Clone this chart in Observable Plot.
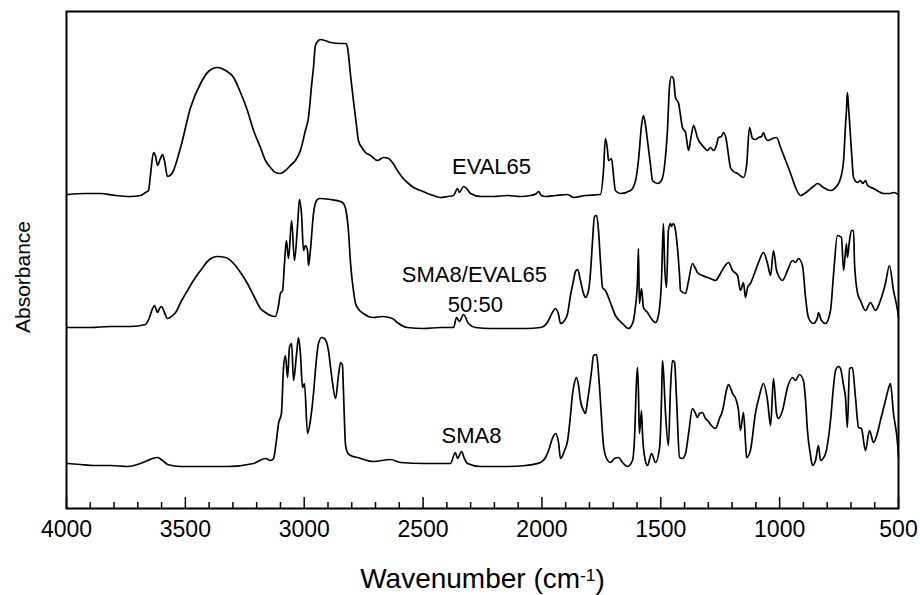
<!DOCTYPE html>
<html><head><meta charset="utf-8">
<script src="https://cdn.jsdelivr.net/npm/d3@7"></script>
<script src="https://cdn.jsdelivr.net/npm/@observablehq/plot@0.6"></script>
<style>body{margin:0;background:#fff;font-family:"Liberation Sans",Arial,sans-serif}</style>
</head><body><div id="chart"></div>
<script>
// [wavenumber (cm-1), absorbance (offset, arbitrary units)]
const eval65 = [[3996,3.14],[3920,3.15],[3857,3.15],[3794,3.13],[3731,3.12],[3689,3.13],[3668,3.16],[3655,3.18],[3647,3.33],[3634,3.56],[3626,3.53],[3617,3.43],[3605,3.50],[3596,3.54],[3588,3.48],[3575,3.32],[3554,3.36],[3520,3.61],[3478,4.01],[3436,4.25],[3403,4.37],[3365,4.41],[3331,4.38],[3297,4.31],[3268,4.16],[3239,3.98],[3213,3.78],[3184,3.61],[3163,3.48],[3142,3.41],[3121,3.36],[3100,3.35],[3079,3.38],[3058,3.43],[3037,3.48],[3016,3.58],[2995,3.78],[2982,3.91],[2969,4.23],[2961,4.41],[2953,4.63],[2944,4.67],[2931,4.69],[2889,4.66],[2847,4.65],[2826,4.65],[2818,4.61],[2805,4.33],[2793,4.08],[2780,3.83],[2772,3.68],[2755,3.60],[2742,3.56],[2721,3.53],[2692,3.48],[2666,3.51],[2645,3.50],[2629,3.46],[2608,3.38],[2587,3.31],[2566,3.26],[2540,3.21],[2511,3.18],[2481,3.15],[2456,3.13],[2427,3.11],[2397,3.12],[2372,3.13],[2355,3.20],[2347,3.16],[2330,3.22],[2317,3.20],[2300,3.15],[2258,3.12],[2204,3.12],[2145,3.13],[2090,3.12],[2048,3.13],[2023,3.15],[2014,3.17],[2002,3.13],[1985,3.12],[1943,3.13],[1892,3.14],[1867,3.11],[1817,3.13],[1754,3.14],[1741,3.38],[1733,3.70],[1724,3.58],[1720,3.48],[1707,3.50],[1699,3.33],[1691,3.18],[1670,3.15],[1627,3.18],[1606,3.28],[1594,3.48],[1581,3.83],[1573,3.93],[1564,3.83],[1556,3.68],[1543,3.43],[1535,3.28],[1514,3.25],[1497,3.28],[1484,3.43],[1472,3.78],[1463,4.23],[1455,4.32],[1447,4.30],[1438,4.11],[1425,4.05],[1417,3.93],[1409,3.81],[1396,3.76],[1383,3.58],[1375,3.68],[1362,3.83],[1354,3.78],[1346,3.71],[1325,3.63],[1303,3.58],[1291,3.61],[1278,3.58],[1266,3.63],[1257,3.71],[1245,3.72],[1236,3.76],[1224,3.68],[1215,3.53],[1207,3.41],[1194,3.37],[1177,3.35],[1152,3.31],[1139,3.43],[1127,3.81],[1114,3.70],[1102,3.69],[1089,3.71],[1076,3.72],[1068,3.76],[1060,3.71],[1051,3.68],[1038,3.69],[1030,3.70],[1013,3.71],[996,3.61],[975,3.48],[954,3.35],[933,3.21],[912,3.13],[895,3.15],[879,3.18],[858,3.22],[841,3.25],[816,3.21],[786,3.18],[761,3.22],[744,3.30],[731,3.48],[723,3.83],[719,3.98],[715,4.16],[710,4.01],[698,3.58],[689,3.31],[672,3.26],[660,3.28],[651,3.25],[639,3.28],[630,3.23],[605,3.20],[584,3.17],[563,3.15],[534,3.15],[521,3.16],[500,3.14]];

const blend5050 = [[3996,1.81],[3899,1.81],[3815,1.82],[3731,1.82],[3668,1.84],[3651,1.91],[3638,2.00],[3630,2.03],[3617,1.96],[3609,2.00],[3600,2.02],[3588,1.96],[3575,1.90],[3554,1.93],[3541,1.96],[3520,2.06],[3491,2.18],[3466,2.28],[3436,2.38],[3403,2.48],[3365,2.52],[3331,2.51],[3297,2.45],[3268,2.36],[3239,2.25],[3213,2.13],[3184,2.00],[3163,1.96],[3142,1.93],[3121,1.92],[3108,2.03],[3100,2.15],[3091,2.18],[3083,2.45],[3075,2.68],[3066,2.50],[3053,2.88],[3041,2.48],[3028,2.83],[3020,3.09],[3011,2.93],[3003,2.58],[2995,2.63],[2986,2.58],[2982,2.43],[2974,2.58],[2961,2.95],[2948,3.08],[2936,3.10],[2889,3.09],[2847,3.07],[2835,3.05],[2826,3.00],[2814,2.78],[2805,2.45],[2793,2.18],[2784,2.05],[2767,1.98],[2751,1.95],[2730,1.92],[2709,1.91],[2671,1.92],[2629,1.90],[2603,1.85],[2566,1.81],[2498,1.80],[2427,1.81],[2372,1.81],[2359,1.91],[2347,1.87],[2330,1.94],[2309,1.85],[2279,1.81],[2216,1.80],[2145,1.80],[2069,1.80],[2006,1.81],[1977,1.86],[1956,1.96],[1943,2.00],[1930,1.94],[1922,1.85],[1905,1.88],[1892,1.95],[1880,2.13],[1867,2.28],[1859,2.37],[1850,2.39],[1838,2.28],[1825,2.15],[1817,2.11],[1804,2.18],[1796,2.35],[1787,2.68],[1779,2.92],[1770,2.93],[1762,2.78],[1754,2.48],[1745,2.21],[1733,2.18],[1712,2.06],[1691,1.93],[1661,1.85],[1636,1.80],[1623,1.83],[1615,1.88],[1606,2.03],[1598,2.28],[1594,2.60],[1590,2.05],[1581,2.20],[1573,2.01],[1564,1.98],[1556,1.96],[1543,1.91],[1522,1.86],[1510,1.93],[1497,2.28],[1489,2.85],[1484,2.45],[1476,2.21],[1468,2.78],[1459,2.85],[1455,2.82],[1447,2.85],[1438,2.78],[1430,2.61],[1421,2.33],[1417,2.18],[1396,2.15],[1383,2.28],[1367,2.45],[1354,2.40],[1346,2.36],[1325,2.33],[1303,2.31],[1282,2.29],[1270,2.28],[1249,2.35],[1232,2.42],[1215,2.46],[1198,2.38],[1177,2.33],[1165,2.18],[1152,2.26],[1144,2.11],[1135,2.21],[1123,2.25],[1106,2.35],[1089,2.46],[1068,2.56],[1051,2.45],[1038,2.33],[1026,2.58],[1013,2.38],[1005,2.33],[988,2.28],[967,2.38],[946,2.48],[933,2.46],[921,2.50],[904,2.43],[891,2.11],[879,1.91],[858,1.85],[841,1.91],[837,1.96],[824,1.88],[807,1.85],[786,1.98],[773,2.35],[757,2.73],[740,2.71],[731,2.38],[719,2.65],[715,2.51],[706,2.68],[698,2.78],[689,2.78],[685,2.45],[672,2.15],[660,2.08],[639,1.98],[618,2.06],[597,1.98],[576,2.08],[555,2.25],[538,2.43],[521,2.18],[504,1.98],[500,1.91]];

const sma8 = [[3996,0.45],[3941,0.44],[3886,0.43],[3815,0.43],[3743,0.42],[3689,0.45],[3659,0.48],[3638,0.50],[3617,0.51],[3596,0.48],[3575,0.44],[3520,0.42],[3466,0.42],[3323,0.42],[3213,0.45],[3163,0.50],[3142,0.48],[3129,0.50],[3117,0.68],[3108,0.85],[3096,0.95],[3087,1.41],[3079,1.53],[3070,1.31],[3062,1.61],[3053,1.65],[3045,1.28],[3032,1.55],[3024,1.71],[3016,1.55],[3007,1.21],[2999,1.25],[2986,0.75],[2974,0.88],[2961,1.15],[2953,1.38],[2940,1.65],[2927,1.71],[2915,1.70],[2898,1.58],[2885,1.33],[2868,1.10],[2856,1.33],[2847,1.46],[2839,1.43],[2835,1.18],[2826,0.63],[2818,0.56],[2805,0.53],[2776,0.51],[2709,0.47],[2637,0.49],[2595,0.46],[2498,0.45],[2385,0.45],[2364,0.56],[2355,0.50],[2338,0.57],[2326,0.50],[2313,0.45],[2258,0.42],[2145,0.42],[2069,0.43],[2006,0.46],[1985,0.51],[1972,0.58],[1956,0.70],[1943,0.75],[1930,0.66],[1922,0.50],[1905,0.58],[1892,0.68],[1880,0.93],[1871,1.15],[1863,1.26],[1855,1.31],[1846,1.23],[1838,1.08],[1825,0.98],[1817,0.95],[1808,1.08],[1800,1.21],[1791,1.38],[1783,1.53],[1770,1.54],[1762,1.35],[1754,1.08],[1741,0.63],[1728,0.50],[1712,0.46],[1695,0.50],[1678,0.51],[1661,0.46],[1640,0.42],[1619,0.48],[1611,0.68],[1602,1.28],[1598,1.41],[1594,1.18],[1590,0.75],[1581,0.98],[1577,0.75],[1569,0.53],[1556,0.43],[1539,0.55],[1522,0.46],[1505,0.61],[1497,1.08],[1493,1.48],[1489,1.38],[1480,0.95],[1468,0.63],[1459,1.21],[1451,1.48],[1442,1.46],[1434,1.11],[1421,0.51],[1409,0.50],[1396,0.55],[1383,0.75],[1367,1.00],[1354,0.95],[1346,0.91],[1337,0.95],[1325,0.96],[1312,0.90],[1303,0.88],[1287,0.83],[1270,0.80],[1253,0.90],[1240,0.98],[1224,1.18],[1215,1.24],[1198,1.15],[1182,1.08],[1173,0.98],[1165,0.78],[1152,0.96],[1144,0.68],[1139,0.51],[1123,0.58],[1102,0.95],[1085,1.13],[1068,1.25],[1051,1.08],[1038,0.83],[1026,1.30],[1013,0.95],[1005,0.90],[988,0.98],[967,1.21],[946,1.31],[933,1.28],[917,1.34],[900,1.28],[891,1.08],[883,0.78],[870,0.53],[862,0.43],[849,0.48],[837,0.63],[828,0.48],[807,0.55],[786,0.88],[773,1.23],[765,1.38],[752,1.42],[744,1.40],[731,1.23],[723,1.11],[715,0.81],[706,1.40],[694,1.41],[681,1.11],[668,0.81],[656,0.80],[639,0.58],[622,0.78],[605,0.66],[588,0.76],[576,0.88],[555,1.08],[542,1.20],[534,1.25],[521,0.95],[504,0.65],[500,0.51]];

const curveLabels = ["EVAL65", "SMA8/EVAL65", "50:50", "SMA8"];
const curveLabelWn = [2212, 2284, 2280, 2296];
const curveLabelAbs = [3.42, 2.34, 2.04, 0.73];

const majorTicks = [4000, 3500, 3000, 2500, 2000, 1500, 1000, 500];
const minorTicks = [3900,3800,3700,3600,3400,3300,3200,3100,2900,2800,2700,2600,2400,2300,2200,2100,1900,1800,1700,1600,1400,1300,1200,1100,900,800,700,600];

const xTitle = "Wavenumber (cm-1)";
const yTitle = "Absorbance";

const series = [eval65, blend5050, sma8];
const labelRows = curveLabels.map((t, i) => ({t, wn: curveLabelWn[i], a: curveLabelAbs[i]}));

const chart = Plot.plot({
  width: 920, height: 595,
  marginLeft: 66, marginRight: 22, marginTop: 11, marginBottom: 87,
  style: {fontFamily: '"Liberation Sans", Arial, sans-serif', background: "white", color: "black"},
  x: {domain: [4000, 500], axis: null},
  y: {domain: [0, 4.97], axis: null},
  marks: [
    ...series.map(s => Plot.line(s, {x: d => d[0], y: d => d[1], stroke: "black", strokeWidth: 1.7, curve: "monotone-x"})),
    Plot.ruleX(minorTicks, {x: d => d, y1: 0, y2: 0.06, stroke: "black", strokeWidth: 1.5}),
    Plot.ruleX(majorTicks, {x: d => d, y1: 0, y2: 0.11, stroke: "black", strokeWidth: 1.5}),
    Plot.frame({stroke: "black", strokeWidth: 2}),
    Plot.axisX({ticks: majorTicks, tickSize: 0, tickPadding: 12, tickFormat: d => String(d), fontSize: 23, label: null}),
    Plot.text(labelRows, {x: "wn", y: "a", text: "t", fontSize: 22, textAnchor: "middle", lineAnchor: "middle"}),
    Plot.text([xTitle], {frameAnchor: "bottom", dy: 71, fontSize: 28, lineAnchor: "middle", text: d => d}),
    Plot.text([yTitle], {frameAnchor: "left", dx: -43, dy: 17, rotate: -90, fontSize: 21, textAnchor: "middle", lineAnchor: "middle", text: d => d})
  ]
});
document.getElementById("chart").appendChild(chart);

// render the superscript "-1" in the x-axis title
d3.select(chart).selectAll("text").each(function() {
  if (this.textContent === xTitle) {
    const t = d3.select(this);
    t.text(null);
    t.append("tspan").text("Wavenumber (cm");
    t.append("tspan").attr("dy", "-0.45em").attr("font-size", "0.62em").text("-1");
    t.append("tspan").attr("dy", "0.28em").text(")");
  }
});
</script>
</body></html>
